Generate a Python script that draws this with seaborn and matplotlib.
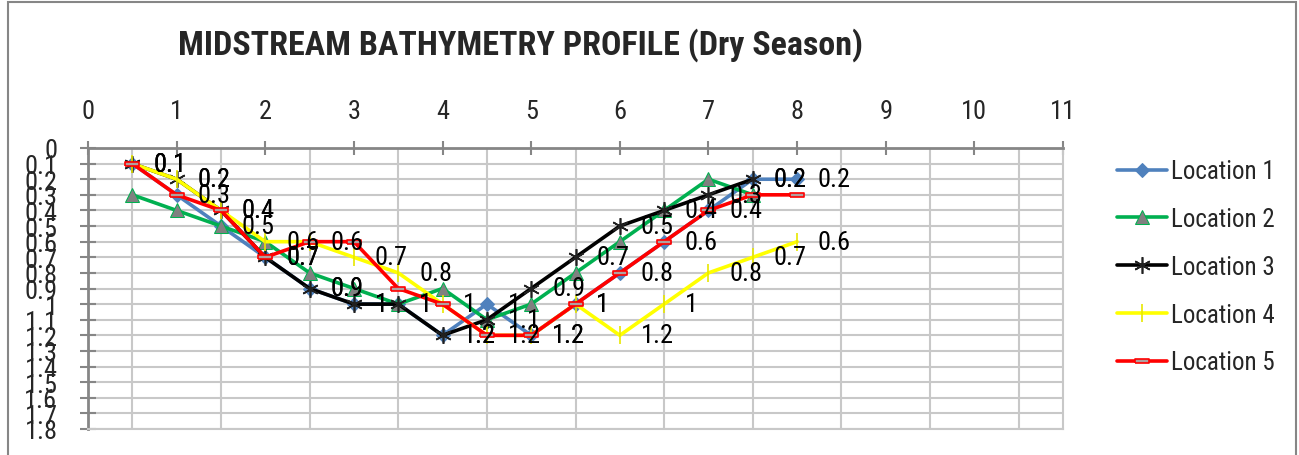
import numpy as np
import pandas as pd
import matplotlib
matplotlib.use("Agg")
import matplotlib.pyplot as plt
from matplotlib import font_manager
from matplotlib.patches import Rectangle
import seaborn as sns

# distance across the channel and depth readings (m)
distance = [0.5, 1, 1.5, 2, 2.5, 3, 3.5, 4, 4.5, 5, 5.5, 6, 6.5, 7, 7.5, 8]
loc1 = [0.1, 0.3, 0.5, 0.7, 0.9, 1.0, 1.0, 1.2, 1.0, 1.2, 1.0, 0.8, 0.6, 0.4, 0.2, 0.2]
loc2 = [0.3, 0.4, 0.5, 0.6, 0.8, 0.9, 1.0, 0.9, 1.1, 1.0, 0.8, 0.6, 0.4, 0.2, 0.3]
loc3 = [0.1, 0.2, 0.4, 0.7, 0.9, 1.0, 1.0, 1.2, 1.1, 0.9, 0.7, 0.5, 0.4, 0.3, 0.2]
loc4 = [0.1, 0.2, 0.4, 0.6, 0.6, 0.7, 0.8, 1.0, 1.2, 1.2, 1.0, 1.2, 1.0, 0.8, 0.7, 0.6]
loc5 = [0.1, 0.3, 0.4, 0.7, 0.6, 0.6, 0.9, 1.0, 1.2, 1.2, 1.0, 0.8, 0.6, 0.4, 0.3, 0.3]

x_ticks = list(range(0, 12))
y_ticks = [round(0.1 * i, 1) for i in range(0, 19)]

sns.set_style("white")

# the original uses a condensed Office font: pick a narrow family that has a bold face
fonts = font_manager.fontManager.ttflist
weights = {}
for f in fonts:
    if "Narrow" in f.name or "Condensed" in f.name:
        w = f.weight if isinstance(f.weight, int) else 400
        weights.setdefault(f.name, set()).add(w)
preferred = ["Liberation Sans Narrow", "Roboto Condensed", "Open Sans Condensed",
             "DejaVu Sans Condensed"]
family = None
for name in preferred + sorted(weights):
    if name in weights and any(w >= 600 for w in weights[name]) and 400 in weights[name]:
        family = name
        break
if family is None:
    family = next(iter(weights), "Lato")
plt.rcParams['font.family'] = [family, 'Lato', 'DejaVu Sans']

fs = 19

W, H = 1299, 456
fig = plt.figure(figsize=(W / 100, H / 100), dpi=100)
ax = fig.add_axes([88 / W, 1 - 430 / H, (1063 - 88) / W, (430 - 149) / H])

# marker for location 5: small flat box
bar = [(-1, -0.35), (1, -0.35), (1, 0.35), (-1, 0.35), (-1, -0.35)]

series = [
    ("Location 1", loc1, dict(color="#4F81BD", marker="D", markersize=7,
                              markerfacecolor="#4F81BD", markeredgecolor="#4F81BD"), True),
    ("Location 2", loc2, dict(color="#00B050", marker="^", markersize=10,
                              markerfacecolor="#808080", markeredgecolor="#00B050"), False),
    ("Location 3", loc3, dict(color="black", marker=(6, 2, 0), markersize=12,
                              markeredgewidth=1.2, markeredgecolor="#202020"), True),
    ("Location 4", loc4, dict(color="#FFFF00", marker="|", markersize=13,
                              markeredgewidth=1.2, markeredgecolor="#E8E800"), True),
    ("Location 5", loc5, dict(color="#FF0000", marker=bar, markersize=10,
                              markerfacecolor="#B0A0A0", markeredgecolor="#FF0000",
                              markeredgewidth=1.2), False),
]

for name, vals, style, labelled in series:
    df = pd.DataFrame({"distance": distance[:len(vals)], "depth": vals})
    sns.lineplot(data=df, x="distance", y="depth", ax=ax, linewidth=2.6,
                 label=name, **style)
    if labelled:
        for xv, yv in zip(df["distance"], df["depth"]):
            ax.annotate(f"{yv:g}", (xv, yv), xytext=(15, 0),
                        textcoords="offset points", ha="left", va="center",
                        fontsize=fs, color="black")

ax.set_xlim(0, 11)
ax.set_ylim(1.8, 0)
ax.xaxis.tick_top()
ax.set_xticks(x_ticks)
ax.set_xticklabels([str(t) for t in x_ticks], fontsize=fs)
ax.set_xticks(np.arange(0, 11.01, 0.5), minor=True)
ax.set_yticks(y_ticks)
ax.set_yticklabels([f"{t:g}" for t in y_ticks], fontsize=fs)
ax.tick_params(axis="x", which="major", direction="inout", length=10, width=1.5,
               color="#868686", pad=13, top=True, bottom=False)
ax.tick_params(axis="x", which="minor", length=0)
ax.tick_params(axis="y", which="major", direction="inout", length=12, width=1.5,
               color="#868686", pad=16, left=True)
ax.grid(True, which="minor", axis="x", color="#C8C8C8", linewidth=1.5)
ax.grid(True, which="major", axis="y", color="#C8C8C8", linewidth=1.5)
ax.set_axisbelow(True)
ax.set_xlabel("")
ax.set_ylabel("")
for side in ["top", "left"]:
    ax.spines[side].set_color("#868686")
    ax.spines[side].set_linewidth(2)
for side in ["bottom", "right"]:
    ax.spines[side].set_color("#C8C8C8")
    ax.spines[side].set_linewidth(1.5)

leg = ax.legend(loc="upper left", bbox_to_anchor=(1.045, 0.995), frameon=False,
                fontsize=18, handlelength=2.0, handletextpad=0.15, labelspacing=0.95,
                borderaxespad=0)

fig.text(520 / W, 1 - 45 / H, "MIDSTREAM BATHYMETRY PROFILE (Dry Season)",
         ha="center", va="center", fontsize=24.5, fontweight="bold")

fig.patches.append(Rectangle((8 / W, -0.01), (1296 - 8) / W, 1 - 3 / H + 0.01,
                             transform=fig.transFigure, fill=False,
                             edgecolor="#868686", linewidth=1.5))

fig.savefig("out.png", dpi=100)
